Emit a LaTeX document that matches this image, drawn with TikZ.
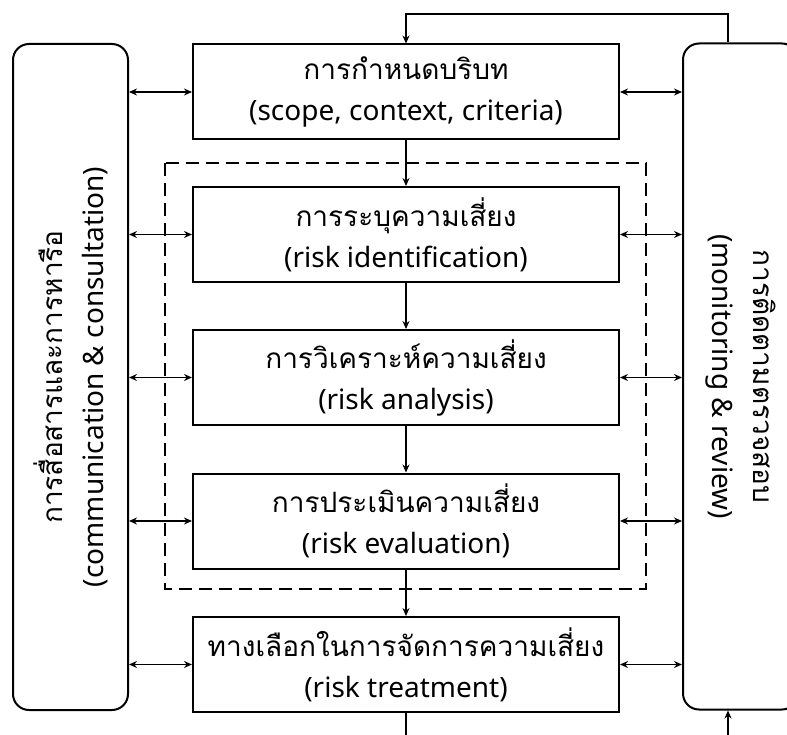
\documentclass[tikz,border=0pt]{standalone}
\usepackage{fontspec}
\setmainfont{Noto Sans}
\newfontfamily\thaifont[Script=Thai]{Loma}
\usetikzlibrary{arrows.meta, positioning, calc}
\tikzset{
  stepbox/.style={draw, line width=2pt, minimum width=426pt, minimum height=95pt, inner sep=0pt, align=center, font=\fontsize{28}{41}\selectfont},
  side/.style={draw, line width=2pt, rounded corners=16pt, minimum width=666pt, minimum height=115pt, inner sep=0pt, align=center, font=\fontsize{28}{41}\selectfont},
  tra/.style={-{Stealth[length=8pt,width=7pt]}, line width=1.5pt},
  both/.style={{Stealth[length=8pt,width=7pt]}-{Stealth[length=8pt,width=7pt]}, line width=1.5pt},
  phase/.style={draw, line width=2.2pt, dash pattern=on 13pt off 7pt}
}

\begin{document}
\begin{tikzpicture}[x=1pt, y=-1pt]
	\clip (0,0) rectangle (787,735);
	% side boxes
	\node[side, rotate=90] (comm) at (70.5,377) {{\thaifont การสื่อสารและการหารือ}\\(communication \& consultation)};
	\node[side, rotate=-90] (moni) at (740.5,376.5) {{\thaifont การติดตามตรวจสอบ}\\(monitoring \& review)};
	% process steps
	\node[stepbox] (ctx) at (406,92) {{\thaifont การกำหนดบริบท}\\(scope, context, criteria)};
	\node[stepbox] (ident) at (406,234.5) {{\thaifont การระบุความเสี่ยง}\\(risk identification)};
	\node[stepbox] (anal) at (406,377.5) {{\thaifont การวิเคราะห์ความเสี่ยง}\\(risk analysis)};
	\node[stepbox] (eval) at (406,521) {{\thaifont การประเมินความเสี่ยง}\\(risk evaluation)};
	\node[stepbox] (treat) at (406,664.5) {{\thaifont ทางเลือกในการจัดการความเสี่ยง}\\(risk treatment)};
	% risk assessment frame
	\draw[phase] (165,163) rectangle (646,589);
	% flow down the steps
	\draw[tra] (ctx) -- (ident);
	\draw[tra] (ident) -- (anal);
	\draw[tra] (anal) -- (eval);
	\draw[tra] (eval) -- (treat);
	% links to the side boxes
	\foreach \s in {ctx, ident, anal, eval, treat} {
		\draw[both] (comm.south |- \s) -- (\s.west);
		\draw[both] (\s.east) -- (moni.south |- \s);
	}
	% feedback loops
	\coordinate (fbtop) at (728,14);
	\coordinate (fbbot) at (728,760);
	\draw[tra] (moni.west -| fbtop) -- (fbtop) -| (ctx.north);
	\draw[tra] (treat.south) |- (fbbot) -- (moni.east -| fbbot);
\end{tikzpicture}
\end{document}
